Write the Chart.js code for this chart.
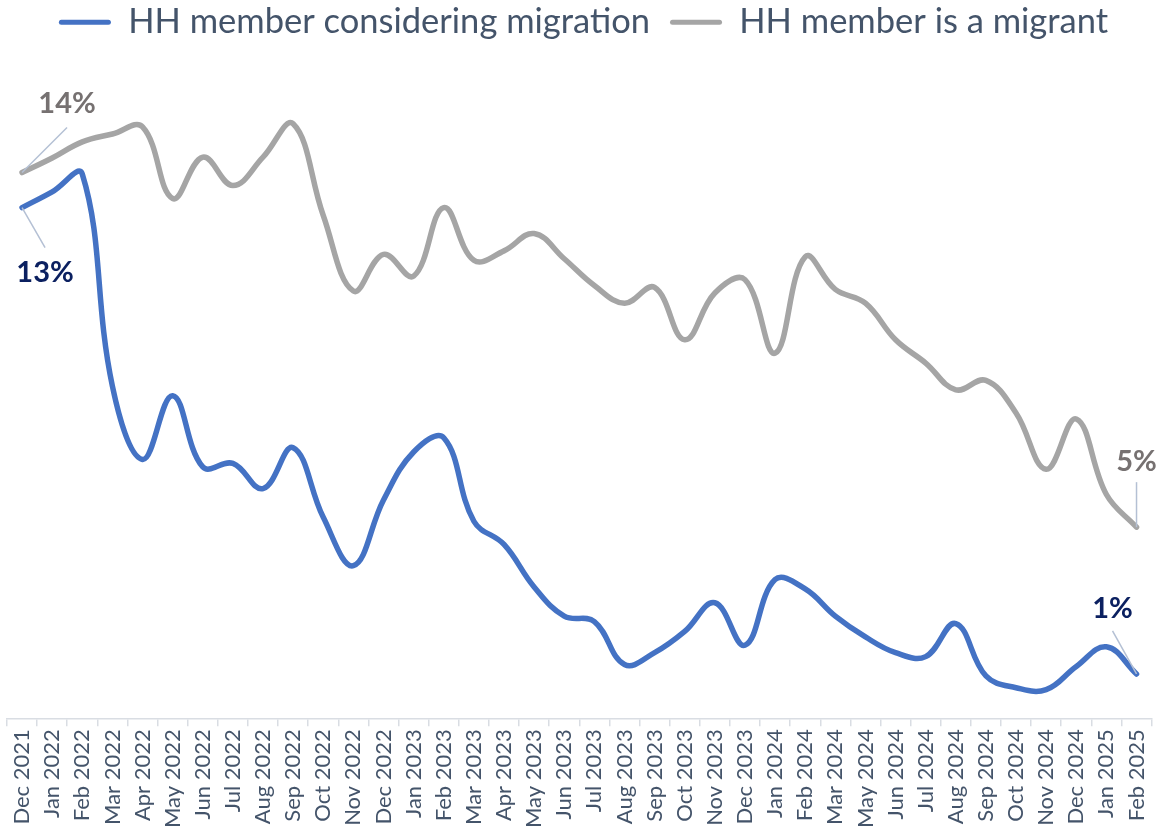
<!DOCTYPE html>
<html>
<head>
<meta charset="utf-8">
<script src="https://cdn.jsdelivr.net/npm/chart.js@4.4.1/dist/chart.umd.min.js"></script>
<style>
  body { margin: 0; background: #ffffff; }
  #wrap { width: 1166px; height: 826px; }
</style>
</head>
<body>
<div id="wrap"><canvas id="migrationChart" width="1166" height="826"></canvas></div>
<script>
// Months shown on the axis (Apr 2024 is not in the survey)
const months = [
    'Dec 2021', 'Jan 2022', 'Feb 2022', 'Mar 2022', 'Apr 2022', 'May 2022', 'Jun 2022',
    'Jul 2022', 'Aug 2022', 'Sep 2022', 'Oct 2022', 'Nov 2022', 'Dec 2022',
    'Jan 2023', 'Feb 2023', 'Mar 2023', 'Apr 2023', 'May 2023', 'Jun 2023',
    'Jul 2023', 'Aug 2023', 'Sep 2023', 'Oct 2023', 'Nov 2023', 'Dec 2023',
    'Jan 2024', 'Feb 2024', 'Mar 2024', 'May 2024', 'Jun 2024', 'Jul 2024',
    'Aug 2024', 'Sep 2024', 'Oct 2024', 'Nov 2024', 'Dec 2024', 'Jan 2025', 'Feb 2025'
];

// Share of households (%)
const consideringMigration = [
    13.0, 13.4, 13.85, 8.46, 6.6, 8.22, 6.41, 6.5, 5.86, 6.9, 5.13, 3.9, 5.57,
    6.79, 7.15, 5.03, 4.44, 3.36, 2.62, 2.48, 1.39, 1.69, 2.23, 2.96, 1.88,
    3.55, 3.31, 2.62, 2.09, 1.69, 1.59, 2.43, 1.1, 0.8, 0.75, 1.34, 1.84, 1.15
];
const isMigrant = [
    13.89, 14.26, 14.67, 14.87, 15.05, 13.23, 14.28, 13.56, 14.28, 15.13, 12.8, 10.88, 11.81,
    11.26, 13.0, 11.66, 11.9, 12.34, 11.7, 11.02, 10.57, 10.97, 9.64, 10.83, 11.17,
    9.3, 11.75, 10.92, 10.57, 9.64, 9.05, 8.37, 8.61, 7.78, 6.35, 7.63, 5.71, 4.88
];

const seriesNames = ['HH member considering migration', 'HH member is a migrant'];
const seriesColors = ['#4472c4', '#a5a5a5'];

// Callout labels at the first and last month
const callouts = [
    { dataset: 1, index: 0, text: '14%', color: '#767171', dx: 45, dy: -69, lx: 45, ly: -45 },
    { dataset: 0, index: 0, text: '13%', color: '#0b2060', dx: 23, dy: 65, lx: 23, ly: 40 },
    { dataset: 1, index: 37, text: '5%', color: '#767171', dx: 0, dy: -66, lx: 0, ly: -45 },
    { dataset: 0, index: 37, text: '1%', color: '#0b2060', dx: -24, dy: -65, lx: -24, ly: -43 }
];

const textColor = '#44546a';
const axisColor = '#d9dde3';

const calloutPlugin = {
    id: 'callouts',
    afterDatasetsDraw(chart) {
        const ctx = chart.ctx;
        ctx.save();
        callouts.forEach(c => {
            const pt = chart.getDatasetMeta(c.dataset).data[c.index];
            // leader line
            ctx.beginPath();
            ctx.strokeStyle = '#b4c0d4';
            ctx.lineWidth = 1.5;
            ctx.moveTo(pt.x, pt.y);
            ctx.lineTo(pt.x + c.lx, pt.y + c.ly);
            ctx.stroke();
            // label
            ctx.fillStyle = c.color;
            ctx.font = 'bold 29px Lato';
            ctx.textAlign = 'center';
            ctx.textBaseline = 'middle';
            ctx.fillText(c.text, pt.x + c.dx, pt.y + c.dy);
        });
        ctx.restore();
    }
};

// pushes the plot down below the legend
const legendSpacer = {
    id: 'legendSpacer',
    beforeInit(chart) {
        const fit = chart.legend.fit;
        chart.legend.fit = function () {
            fit.bind(chart.legend)();
            this.height += 40;
        };
    }
};

const ctx = document.getElementById('migrationChart').getContext('2d');
new Chart(ctx, {
    type: 'line',
    data: {
        labels: months,
        datasets: [
            {
                label: seriesNames[0],
                data: consideringMigration,
                borderColor: seriesColors[0],
                backgroundColor: seriesColors[0],
                borderWidth: 5.5,
                tension: 0.4,
                pointRadius: 0,
                borderCapStyle: 'round',
                borderJoinStyle: 'round'
            },
            {
                label: seriesNames[1],
                data: isMigrant,
                borderColor: seriesColors[1],
                backgroundColor: seriesColors[1],
                borderWidth: 5.5,
                tension: 0.4,
                pointRadius: 0,
                borderCapStyle: 'round',
                borderJoinStyle: 'round'
            }
        ]
    },
    options: {
        responsive: false,
        animation: false,
        layout: { padding: { left: 7, right: 6, top: -15, bottom: -5 } },
        plugins: {
            tooltip: { enabled: false },
            legend: {
                display: true,
                position: 'top',
                labels: {
                    color: textColor,
                    font: { family: 'Lato', size: 34.5 },
                    boxWidth: 52,
                    boxHeight: 5,
                    padding: 20,
                    useBorderRadius: true,
                    borderRadius: 2.5,
                    generateLabels: function (chart) {
                        return chart.data.datasets.map((ds, i) => ({
                            text: ds.label,
                            fillStyle: ds.borderColor,
                            strokeStyle: ds.borderColor,
                            lineWidth: 0,
                            fontColor: textColor,
                            borderRadius: 2.5,
                            hidden: false,
                            datasetIndex: i
                        }));
                    }
                }
            }
        },
        scales: {
            x: {
                offset: true,
                grid: {
                    display: true,
                    offset: true,
                    drawOnChartArea: false,
                    drawTicks: true,
                    tickLength: 7,
                    color: axisColor,
                    lineWidth: 1.5
                },
                border: { display: true, color: axisColor, width: 1.5 },
                ticks: {
                    color: textColor,
                    font: { family: 'Lato', size: 22 },
                    minRotation: 90,
                    maxRotation: 90,
                    autoSkip: false,
                    padding: 3
                }
            },
            y: {
                display: false,
                min: 0,
                max: 16
            }
        }
    },
    plugins: [calloutPlugin, legendSpacer]
});
</script>
</body>
</html>
